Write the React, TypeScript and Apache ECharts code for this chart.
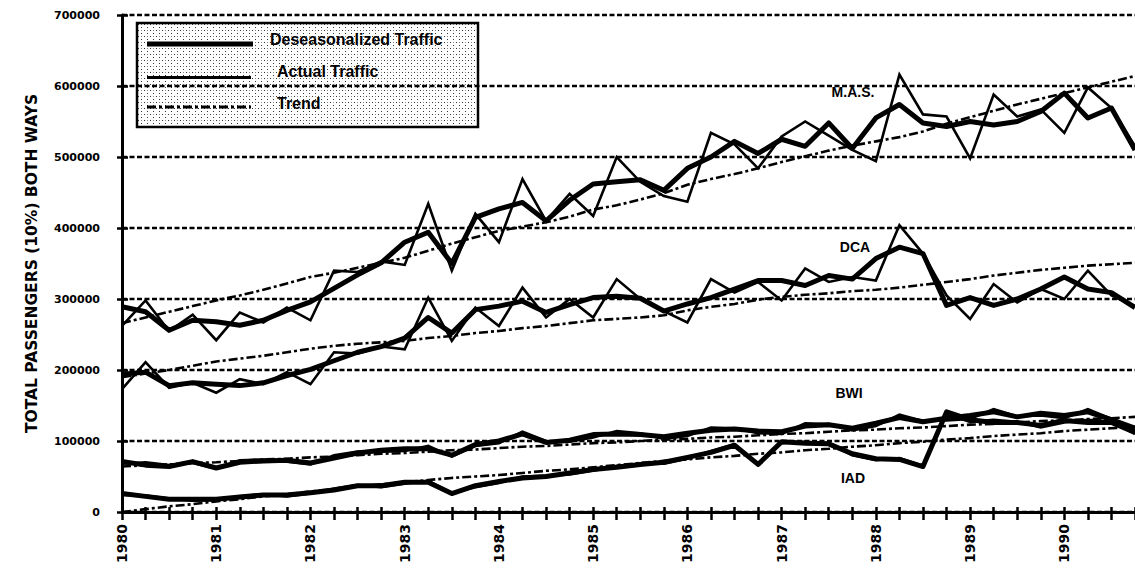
import React, { useEffect, useRef } from "react";
import * as echarts from "echarts";

// ---- Data (quarterly, 1980 Q1 .. 1990 Q4) ----
const YEARS = ["1980", "1981", "1982", "1983", "1984", "1985", "1986", "1987", "1988", "1989", "1990"];
const QUARTERS = ["Q1", "Q2", "Q3", "Q4"];
const Y_MIN = 0;
const Y_MAX = 700000;
const Y_STEP = 100000;

const MAS_DESEAS = [
  289000, 282000, 256000, 270000, 268000, 263000, 270000, 284000, 296000, 315000, 334000, 351000,
  380000, 394000, 350000, 415000, 427000, 436000, 410000, 439000, 462000, 465000, 468000, 453000,
  484000, 500000, 522000, 505000, 525000, 515000, 548000, 512000, 555000, 574000, 548000, 543000,
  550000, 545000, 550000, 564000, 590000, 555000, 569000, 510000,
];
const MAS_ACTUAL = [
  262000, 298000, 255000, 278000, 242000, 281000, 267000, 288000, 270000, 340000, 338000, 353000,
  348000, 434000, 340000, 420000, 380000, 469000, 410000, 448000, 417000, 500000, 465000, 445000,
  437000, 534000, 518000, 484000, 529000, 550000, 530000, 510000, 494000, 616000, 560000, 557000,
  498000, 588000, 557000, 567000, 534000, 598000, 569000, 515000,
];
const MAS_TREND = [
  266000, 274000, 282000, 290000, 298000, 305000, 313000, 322000, 331000, 337000, 344000, 351000,
  358000, 368000, 378000, 387000, 396000, 402000, 408000, 416000, 426000, 432000, 440000, 449000,
  461000, 469000, 476000, 484000, 493000, 501000, 509000, 516000, 522000, 528000, 536000, 547000,
  556000, 565000, 574000, 582000, 590000, 598000, 606000, 614000,
];

const DCA_DESEAS = [
  194000, 197000, 178000, 182000, 180000, 178000, 182000, 192000, 201000, 213000, 225000, 233000,
  245000, 274000, 252000, 285000, 290000, 297000, 281000, 292000, 302000, 304000, 301000, 283000,
  293000, 302000, 314000, 326000, 326000, 319000, 333000, 328000, 357000, 373000, 364000, 291000,
  302000, 291000, 300000, 314000, 331000, 314000, 309000, 288000,
];
const DCA_ACTUAL = [
  173000, 211000, 175000, 182000, 168000, 187000, 180000, 197000, 180000, 225000, 223000, 233000,
  229000, 302000, 241000, 288000, 262000, 316000, 274000, 300000, 274000, 328000, 300000, 283000,
  267000, 328000, 309000, 324000, 298000, 343000, 324000, 331000, 326000, 404000, 364000, 305000,
  272000, 321000, 295000, 314000, 300000, 340000, 305000, 290000,
];
const DCA_TREND = [
  190000, 195000, 200000, 206000, 212000, 216000, 220000, 225000, 230000, 234000, 237000, 239000,
  241000, 245000, 248000, 252000, 255000, 259000, 262000, 266000, 270000, 272000, 274000, 277000,
  284000, 289000, 293000, 299000, 303000, 306000, 308000, 311000, 313000, 316000, 320000, 324000,
  328000, 333000, 337000, 341000, 344000, 347000, 349000, 351000,
];

const BWI_DESEAS = [
  71000, 66000, 64000, 71000, 62000, 70000, 72000, 73000, 69000, 76000, 83000, 87000,
  89000, 89000, 80000, 95000, 100000, 110000, 98000, 101000, 109000, 110000, 109000, 106000,
  111000, 115000, 117000, 114000, 113000, 121000, 123000, 118000, 125000, 133000, 127000, 132000,
  136000, 141000, 134000, 139000, 136000, 141000, 130000, 118000,
];
const BWI_ACTUAL = [
  68000, 70000, 66000, 69000, 61000, 73000, 74000, 71000, 67000, 80000, 85000, 85000,
  86000, 93000, 78000, 93000, 97000, 113000, 100000, 99000, 105000, 114000, 111000, 103000,
  107000, 119000, 118000, 111000, 110000, 125000, 124000, 115000, 121000, 137000, 128000, 129000,
  131000, 145000, 135000, 136000, 132000, 145000, 131000, 115000,
];
const BWI_TREND = [
  64000, 66000, 67000, 69000, 70000, 72000, 74000, 75000, 77000, 78000, 80000, 82000,
  83000, 85000, 87000, 88000, 90000, 92000, 93000, 95000, 97000, 98000, 100000, 102000,
  103000, 105000, 106000, 108000, 110000, 111000, 113000, 115000, 116000, 118000, 119000, 121000,
  123000, 124000, 126000, 128000, 129000, 131000, 132000, 134000,
];

const IAD_DESEAS = [
  26000, 22000, 18000, 18000, 18000, 21000, 24000, 24000, 27000, 31000, 37000, 37000,
  42000, 42000, 26000, 37000, 43000, 48000, 50000, 55000, 60000, 63000, 67000, 70000,
  77000, 84000, 94000, 67000, 99000, 97000, 96000, 82000, 75000, 74000, 64000, 141000,
  130000, 126000, 126000, 122000, 129000, 126000, 126000, 112000,
];
const IAD_ACTUAL = [
  24000, 23000, 19000, 16000, 17000, 22000, 25000, 22000, 26000, 33000, 38000, 35000,
  40000, 44000, 27000, 35000, 41000, 50000, 51000, 53000, 58000, 65000, 68000, 68000,
  75000, 86000, 95000, 66000, 97000, 99000, 97000, 80000, 73000, 76000, 65000, 138000,
  127000, 130000, 127000, 119000, 126000, 130000, 127000, 110000,
];
const IAD_TREND = [
  0, 4000, 8000, 11000, 15000, 18000, 22000, 25000, 29000, 32000, 36000, 39000,
  42000, 45000, 48000, 50000, 52000, 55000, 58000, 60000, 63000, 66000, 69000, 72000,
  74000, 77000, 79000, 82000, 84000, 87000, 89000, 92000, 94000, 97000, 99000, 102000,
  104000, 107000, 109000, 111000, 114000, 116000, 118000, 120000,
];

const LEGEND_LABELS = ["Deseasonalized Traffic", "Actual Traffic", "Trend"];
const AXIS_TITLE = "TOTAL PASSENGERS (10%) BOTH WAYS";
const AIRPORT_LABELS = ["M.A.S.", "DCA", "BWI", "IAD"];

const TREND_DASH = [9, 3, 3, 3];

function makePattern(): HTMLCanvasElement {
  const cv = document.createElement("canvas");
  cv.width = 6;
  cv.height = 6;
  const ctx = cv.getContext("2d");
  if (ctx) {
    ctx.fillStyle = "#ffffff";
    ctx.fillRect(0, 0, 6, 6);
    ctx.fillStyle = "#333333";
    ctx.fillRect(0, 0, 1, 1);
    ctx.fillRect(3, 3, 1, 1);
    ctx.fillStyle = "#888888";
    ctx.fillRect(3, 0, 1, 1);
  }
  return cv;
}

export default function App() {
  const ref = useRef<HTMLDivElement>(null);

  useEffect(() => {
    const el = ref.current;
    if (!el) return;
    const chart = echarts.init(el, null, { renderer: "svg" });

    const categories = YEARS.flatMap((y) => QUARTERS.map((q) => `${y} ${q}`));

    const mk = (name: string, data: number[], kind: "d" | "a" | "t") => ({
      type: "line",
      name,
      data,
      xAxisIndex: 0,
      yAxisIndex: 0,
      symbol: "none",
      showSymbol: false,
      silent: true,
      z: kind === "d" ? 5 : kind === "a" ? 4 : 3,
      lineStyle:
        kind === "d"
          ? { color: "#000", width: 5, join: "round" }
          : kind === "a"
          ? { color: "#000", width: 2.6, join: "miter" }
          : { color: "#000", width: 2.6, type: TREND_DASH },
    });

    const labelFont = { fontFamily: "Liberation Sans", fontWeight: "bold", fill: "#000" };
    const pattern = makePattern();

    const option: any = {
      animation: false,
      backgroundColor: "#ffffff",
      grid: { left: 122, right: -7, top: 15, bottom: 59, containLabel: false },
      xAxis: [
        {
          type: "category",
          data: categories,
          boundaryGap: false,
          position: "bottom",
          axisLine: { show: true, lineStyle: { color: "#000", width: 3 } },
          axisTick: { show: true, interval: 0, length: 8, lineStyle: { color: "#000", width: 2.5 } },
          axisLabel: {
            interval: 3,
            rotate: 90,
            margin: 12,
            formatter: (v: string) => v.slice(0, 4),
            fontFamily: "DejaVu Sans",
            fontWeight: "bold",
            fontSize: 14,
            color: "#000",
          },
          splitLine: { show: false },
        },
        {
          type: "category",
          data: categories,
          boundaryGap: false,
          position: "bottom",
          axisLine: { show: false },
          axisTick: { show: true, inside: true, interval: 0, length: 5, lineStyle: { color: "#000", width: 2.5 } },
          axisLabel: { show: false },
          splitLine: { show: false },
        },
      ],
      yAxis: [
        {
          type: "value",
          min: Y_MIN,
          max: Y_MAX,
          interval: Y_STEP,
          position: "left",
          name: AXIS_TITLE,
          nameLocation: "middle",
          nameRotate: 90,
          nameGap: 82,
          nameTextStyle: { fontFamily: "DejaVu Sans", fontWeight: "bold", fontSize: 15.5, color: "#000" },
          axisLine: { show: true, lineStyle: { color: "#000", width: 3 } },
          axisTick: { show: true, length: 5, lineStyle: { color: "#000", width: 2.5 } },
          axisLabel: {
            margin: 22,
            formatter: (v: number) => String(v),
            fontFamily: "DejaVu Sans",
            fontWeight: "bold",
            fontSize: 11,
            color: "#000",
          },
          splitLine: { show: true, lineStyle: { color: "#000", width: 2.4, type: [5, 2.5] } },
        },
        {
          type: "value",
          min: Y_MIN,
          max: Y_MAX,
          interval: Y_STEP,
          position: "left",
          offset: 0,
          axisLine: { show: false },
          axisTick: { show: true, inside: true, length: 6, lineStyle: { color: "#000", width: 2.5 } },
          axisLabel: { show: false },
          splitLine: { show: false },
        },
      ],
      series: [
        mk("M.A.S. Trend", MAS_TREND, "t"),
        mk("DCA Trend", DCA_TREND, "t"),
        mk("BWI Trend", BWI_TREND, "t"),
        mk("IAD Trend", IAD_TREND, "t"),
        mk("M.A.S. Actual Traffic", MAS_ACTUAL, "a"),
        mk("DCA Actual Traffic", DCA_ACTUAL, "a"),
        mk("BWI Actual Traffic", BWI_ACTUAL, "a"),
        mk("IAD Actual Traffic", IAD_ACTUAL, "a"),
        mk("M.A.S. Deseasonalized Traffic", MAS_DESEAS, "d"),
        mk("DCA Deseasonalized Traffic", DCA_DESEAS, "d"),
        mk("BWI Deseasonalized Traffic", BWI_DESEAS, "d"),
        mk("IAD Deseasonalized Traffic", IAD_DESEAS, "d"),
      ],
      graphic: [
        {
          type: "group",
          z: 100,
          children: [
            {
              type: "rect",
              shape: { x: 137, y: 23, width: 341, height: 104 },
              style: { fill: { image: pattern, repeat: "repeat" }, stroke: "#000", lineWidth: 2.5 },
            },
            { type: "line", shape: { x1: 147, y1: 44, x2: 253, y2: 44 }, style: { stroke: "#000", lineWidth: 5 } },
            { type: "line", shape: { x1: 147, y1: 77.5, x2: 251, y2: 77.5 }, style: { stroke: "#000", lineWidth: 2.8 } },
            {
              type: "line",
              shape: { x1: 147, y1: 107, x2: 251, y2: 107 },
              style: { stroke: "#000", lineWidth: 2.8, lineDash: TREND_DASH },
            },
            {
              type: "text",
              x: 270,
              y: 39,
              style: { text: LEGEND_LABELS[0], fontSize: 16, ...labelFont, align: "left", verticalAlign: "middle", textAlign: "left", textVerticalAlign: "middle" },
            },
            {
              type: "text",
              x: 277,
              y: 71,
              style: { text: LEGEND_LABELS[1], fontSize: 16, ...labelFont, align: "left", verticalAlign: "middle", textAlign: "left", textVerticalAlign: "middle" },
            },
            {
              type: "text",
              x: 277,
              y: 103,
              style: { text: LEGEND_LABELS[2], fontSize: 16, ...labelFont, align: "left", verticalAlign: "middle", textAlign: "left", textVerticalAlign: "middle" },
            },
          ],
        },
        {
          type: "text",
          x: 853,
          y: 92,
          z: 100,
          style: { text: AIRPORT_LABELS[0], fontSize: 14, ...labelFont, align: "center", verticalAlign: "middle", textAlign: "center", textVerticalAlign: "middle" },
        },
        {
          type: "text",
          x: 855,
          y: 247,
          z: 100,
          style: { text: AIRPORT_LABELS[1], fontSize: 14, ...labelFont, align: "center", verticalAlign: "middle", textAlign: "center", textVerticalAlign: "middle" },
        },
        {
          type: "text",
          x: 849,
          y: 393,
          z: 100,
          style: { text: AIRPORT_LABELS[2], fontSize: 14, ...labelFont, align: "center", verticalAlign: "middle", textAlign: "center", textVerticalAlign: "middle" },
        },
        {
          type: "text",
          x: 853,
          y: 478,
          z: 100,
          style: { text: AIRPORT_LABELS[3], fontSize: 14, ...labelFont, align: "center", verticalAlign: "middle", textAlign: "center", textVerticalAlign: "middle" },
        },
      ],
    };

    chart.setOption(option);
    return () => {
      chart.dispose();
    };
  }, []);

  return (
    <div
      ref={ref}
      style={{ position: "fixed", left: 0, top: 0, width: 1135, height: 571, background: "#fff" }}
    />
  );
}
